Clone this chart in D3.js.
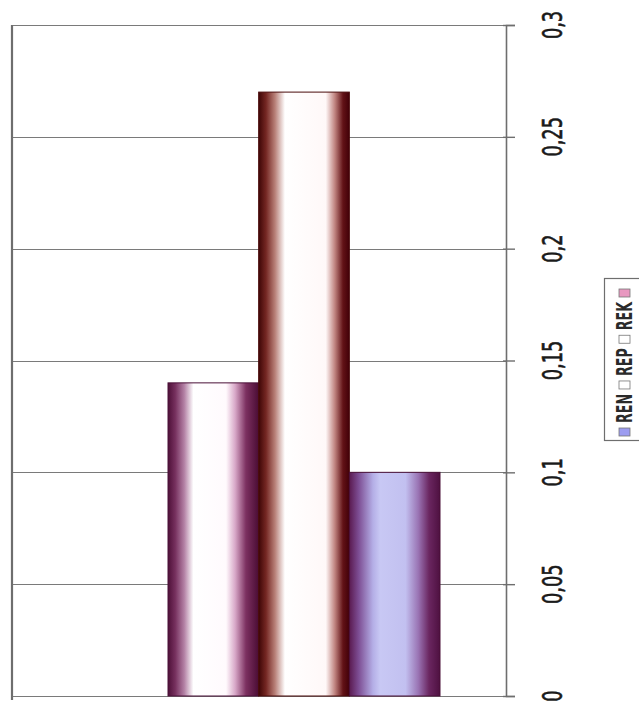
<!DOCTYPE html>
<html>
<head>
<meta charset="utf-8">
<script src="https://cdn.jsdelivr.net/npm/d3@7"></script>
<style>
  html, body { margin: 0; padding: 0; background: #fff; }
  svg { display: block; }
</style>
</head>
<body>
<svg id="chart" width="639" height="701"></svg>
<script>
// Series shown as bars, left to right
const barSeries = ["REK", "REP", "REN"];
const barValues = [0.14, 0.27, 0.10];
// Legend entries, read bottom to top
const legendSeries = ["REN", "REP", "REK"];
// Value axis ticks
const tickValues = [0, 0.05, 0.1, 0.15, 0.2, 0.25, 0.3];
const tickLabels = ["0", "0,05", "0,1", "0,15", "0,2", "0,25", "0,3"];

// Cylinder-style shading per series (horizontal gradient stops)
const shading = {
  REK: [[0, "#4e1038"], [0.08, "#76305e"], [0.18, "#b482a6"], [0.28, "#ffffff"], [0.64, "#fffafd"], [0.74, "#d8a8c8"], [0.86, "#7c3060"], [1, "#4a0c34"]],
  REP: [[0, "#3e0606"], [0.08, "#742622"], [0.18, "#b88078"], [0.29, "#ffffff"], [0.74, "#fff8f8"], [0.84, "#c08480"], [0.93, "#621216"], [1, "#420008"]],
  REN: [[0, "#5a1a50"], [0.1, "#7c4c92"], [0.26, "#b4aee6"], [0.34, "#c8c8f4"], [0.62, "#c2c0f0"], [0.76, "#9a74b4"], [0.88, "#6a2660"], [1, "#4e1040"]]
};
const legendSwatch = ["#9c9cf0", "#ffffff", "#ffffff", "#e898c0"];

const svg = d3.select("#chart");
const font = "'Liberation Sans Narrow', 'Arial Narrow', 'DejaVu Sans Condensed', sans-serif";

const plot = { left: 12, right: 506, top: 25, bottom: 696 };
const y = d3.scaleLinear().domain([0, 0.3]).range([plot.bottom, plot.top]);
const x = d3.scaleBand().domain(barSeries).range([168, 440]).paddingInner(0).paddingOuter(0);

// gradients
const defs = svg.append("defs");
barSeries.forEach(s => {
  const g = defs.append("linearGradient").attr("id", "grad-" + s)
    .attr("x1", "0%").attr("x2", "100%").attr("y1", "0%").attr("y2", "0%");
  shading[s].forEach(([o, c]) => g.append("stop").attr("offset", o).attr("stop-color", c));
});

// gridlines
svg.append("g").selectAll("line").data(tickValues).join("line")
  .attr("x1", plot.left).attr("x2", plot.right)
  .attr("y1", d => Math.round(y(d)) + 0.5).attr("y2", d => Math.round(y(d)) + 0.5)
  .attr("stroke", "#7a7a7a").attr("stroke-width", 1.2);

// left frame line
svg.append("line")
  .attr("x1", plot.left).attr("x2", plot.left)
  .attr("y1", plot.top).attr("y2", plot.bottom + 4)
  .attr("stroke", "#6e6e6e").attr("stroke-width", 2.2);

// bars
svg.append("g").selectAll("rect").data(barSeries).join("rect")
  .attr("x", d => x(d))
  .attr("width", x.bandwidth())
  .attr("y", (d, i) => y(barValues[i]))
  .attr("height", (d, i) => y(0) - y(barValues[i]))
  .attr("fill", d => "url(#grad-" + d + ")")
  .attr("stroke", d => d === "REP" ? "#4a0a0a" : "#4a1038")
  .attr("stroke-width", 1);

// value axis on the right
const axis = d3.axisRight(y).tickValues(tickValues).tickSize(9).tickFormat("");
const ag = svg.append("g").attr("transform", `translate(${plot.right},0)`).call(axis);
ag.select(".domain").attr("stroke", "#6e6e6e").attr("stroke-width", 1.6);
ag.selectAll(".tick line").attr("stroke", "#6e6e6e").attr("stroke-width", 1.4).attr("x1", -3);

// rotated tick labels
svg.append("g").selectAll("text").data(tickValues).join("text")
  .attr("transform", d => `translate(562,${y(d)}) rotate(-90) scale(0.76,1)`)
  .attr("text-anchor", "middle")
  .attr("font-family", font)
  .attr("font-size", 26)
  .attr("fill", "#1a1a1a")
  .attr("stroke", "#1a1a1a").attr("stroke-width", 0.6)
  .text((d, i) => tickLabels[i]);

// legend box
const lg = { x: 604, y: 278, w: 40, h: 162 };
svg.append("rect")
  .attr("x", lg.x + 0.5).attr("y", lg.y + 0.5)
  .attr("width", lg.w).attr("height", lg.h)
  .attr("fill", "#fff").attr("stroke", "#6e6e6e").attr("stroke-width", 1.2);

// legend content, reading upward, stretched to fill the box
const lc = svg.append("g").attr("transform", `translate(632,${lg.y + lg.h - 4}) rotate(-90)`);
const sw = 8, gap = 5, fontSize = 21;
const span = lg.h - 10;
const items = [];
legendSeries.forEach((s, i) => {
  items.push({ type: "swatch", color: legendSwatch[i] });
  items.push({ type: "text", label: s });
});
items.push({ type: "swatch", color: legendSwatch[3] });

// measure the labels first
const probe = lc.append("text").attr("font-family", font).attr("font-weight", "bold").attr("font-size", fontSize);
let textTotal = 0;
items.forEach(it => {
  if (it.type === "text") { probe.text(it.label); it.len = probe.node().getComputedTextLength(); textTotal += it.len; }
});
probe.remove();
const fixed = items.filter(it => it.type === "swatch").length * (sw + gap) + 3 * gap;
const textScale = (span - fixed) / textTotal;

let pos = 0;
items.forEach(it => {
  if (it.type === "swatch") {
    lc.append("rect").attr("x", pos).attr("y", -13).attr("width", sw).attr("height", 11)
      .attr("fill", it.color).attr("stroke", "#777").attr("stroke-width", 0.8);
    pos += sw + gap;
  } else {
    lc.append("text")
      .attr("font-family", font).attr("font-weight", "bold")
      .attr("font-size", fontSize).attr("fill", "#2a2a2a")
      .attr("transform", `translate(${pos},0) scale(${textScale},1)`)
      .text(it.label);
    pos += it.len * textScale + gap;
  }
});
</script>
</body>
</html>
